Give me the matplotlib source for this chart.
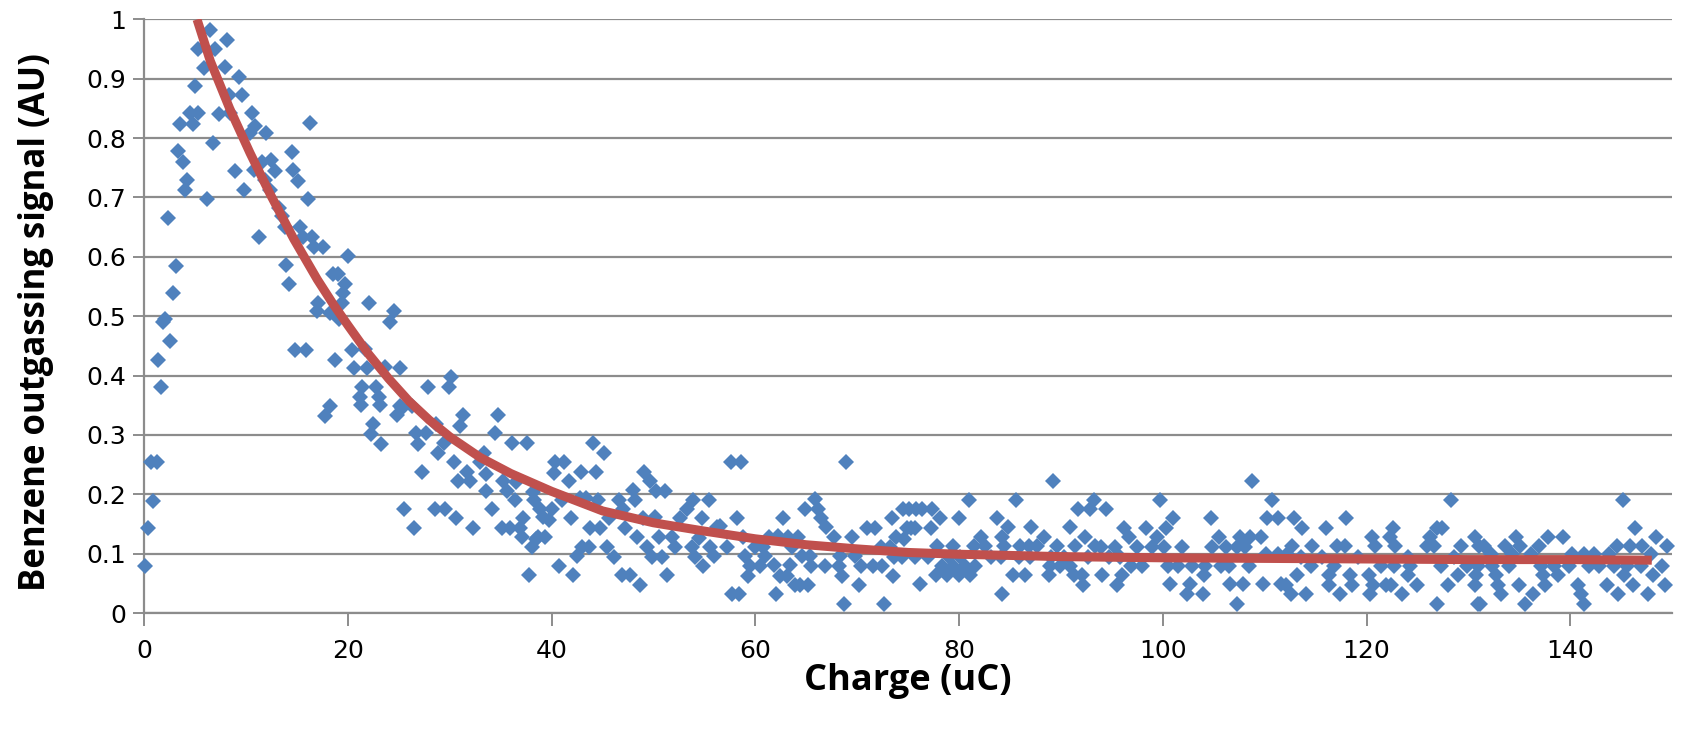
import matplotlib
matplotlib.use("Agg")
import matplotlib.pyplot as plt

# ---- scatter data (charge uC, signal AU) ----
charge_a = [0.1,0.42,0.65,0.85,1.25,1.4,1.64,1.9,2.1,2.3,2.55,2.8,3.1,3.3,3.53,3.8,4.0,4.25,4.5,4.78,5.0,5.27,5.33,5.9,6.2,6.48,6.74,6.97,7.4,7.95,8.1,8.35,8.44,8.93,9.33,9.65,9.85,10.35,10.57,10.8,10.9,11.3,11.55,11.88,11.98,12.37,12.5,12.86,13.25,13.5,13.8,13.94,14.24,14.5,14.66,14.8,15.15,15.3,15.6,15.9,16.05,16.3,16.5,16.7,16.95,17.1,17.6,17.77,18.26,18.26,18.5,18.75,19.0,19.1,19.57,19.46,19.7,20.06]
signal_a = [0.079,0.143,0.254,0.189,0.254,0.427,0.38,0.491,0.495,0.666,0.459,0.539,0.585,0.779,0.824,0.76,0.713,0.73,0.843,0.824,0.888,0.842,0.951,0.919,0.697,0.983,0.792,0.951,0.84,0.92,0.966,0.873,0.842,0.745,0.903,0.873,0.713,0.808,0.842,0.747,0.82,0.634,0.76,0.73,0.808,0.713,0.763,0.745,0.682,0.668,0.65,0.586,0.555,0.777,0.746,0.443,0.728,0.651,0.634,0.443,0.697,0.825,0.634,0.617,0.508,0.522,0.617,0.332,0.349,0.505,0.571,0.427,0.571,0.496,0.539,0.522,0.555,0.601]

charge_b = [20.4,20.6,21.2,21.4,21.7,21.9,22.1,22.8,23.1,23.65,24.1,24.5,24.8,25.1,25.1,26.3,27.9,29.9,30.1,31.3,34.7,21.3,23.2,25.3,22.5,22.25,23.3,26.7,26.9,27.7,28.7,31.0,34.4,29.4,28.9,36.1,37.6,30.4,33.4,33.0,27.25,31.7,33.6,30.8,32.0,35.2,36.5,33.6,35.6,36.4,38.2,38.3,25.5,28.6,29.55,34.2,30.6,37.2,26.5,32.3,35.1,35.9,36.9,37.1,38.1,38.5,37.8]
signal_b = [0.443,0.412,0.364,0.381,0.445,0.412,0.523,0.381,0.364,0.415,0.491,0.508,0.334,0.412,0.348,0.348,0.381,0.38,0.397,0.334,0.334,0.35,0.35,0.346,0.318,0.301,0.285,0.303,0.285,0.303,0.318,0.315,0.303,0.286,0.269,0.286,0.286,0.254,0.27,0.255,0.238,0.238,0.235,0.222,0.222,0.222,0.221,0.206,0.206,0.19,0.204,0.19,0.175,0.175,0.175,0.175,0.16,0.16,0.143,0.143,0.143,0.143,0.143,0.128,0.112,0.125,0.064]

charge_c = [44.1,45.1,40.35,41.2,40.2,42.9,44.4,41.75,49.1,49.7,50.3,51.15,48.0,48.2,41.0,42.8,43.4,44.6,46.6,47.05,53.9,55.5,53.3,38.9,40.0,39.2,39.7,41.9,45.6,49.0,50.2,52.6,54.75,43.8,44.8,47.2,56.2,38.7,39.4,48.4,50.5,51.8,54.5,43.0,43.7,45.4,49.35,52.1,53.8,55.6,42.5,46.1,49.85,50.8,54.1,54.9,40.7,42.1,46.9,47.7,48.7,51.3]
signal_c = [0.286,0.27,0.255,0.255,0.236,0.238,0.238,0.222,0.238,0.222,0.206,0.206,0.207,0.19,0.19,0.193,0.193,0.19,0.19,0.176,0.19,0.19,0.176,0.176,0.175,0.161,0.156,0.16,0.16,0.16,0.161,0.16,0.16,0.143,0.143,0.143,0.145,0.128,0.128,0.128,0.128,0.128,0.127,0.112,0.112,0.112,0.112,0.112,0.112,0.112,0.096,0.095,0.095,0.095,0.095,0.079,0.08,0.064,0.064,0.064,0.047,0.064]

charge_d = [57.6,58.6,68.9,65.9,64.9,66.2,66.4,74.5,73.4,58.2,62.7,56.5,66.9,70.95,71.75,75.3,58.8,61.3,62.2,63.2,64.2,67.7,69.5,73.8,57.2,60.0,60.8,63.6,72.3,73.2,55.9,59.0,61.0,64.6,65.4,68.3,69.8,73.6,74.4,59.5,60.5,61.8,63.4,65.5,66.8,68.2,70.4,71.6,72.4,59.3,62.4,63.1,68.5,73.5,63.9,64.4,65.2,70.2,57.7,58.4,62.0,68.75,72.6]
signal_d = [0.254,0.254,0.254,0.192,0.176,0.176,0.16,0.176,0.16,0.16,0.16,0.147,0.145,0.144,0.144,0.143,0.128,0.128,0.13,0.128,0.128,0.128,0.128,0.128,0.112,0.112,0.112,0.112,0.112,0.112,0.096,0.096,0.096,0.096,0.096,0.096,0.096,0.095,0.095,0.08,0.08,0.081,0.081,0.08,0.08,0.08,0.08,0.08,0.08,0.063,0.063,0.063,0.063,0.063,0.047,0.047,0.047,0.047,0.032,0.032,0.032,0.016,0.016]

charge_e = [89.2,81.0,85.6,93.2,75.1,75.8,76.4,77.3,91.7,92.9,78.1,80.0,83.7,74.9,75.7,77.2,84.85,87.1,90.9,82.2,84.2,88.3,92.4,93.3,74.6,77.8,79.45,81.5,82.5,84.4,86.0,86.9,87.7,89.6,91.4,75.7,77.0,79.0,80.1,83.1,84.1,85.9,87.0,89.0,90.3,92.7,78.3,79.45,80.6,81.6,88.9,89.9,90.9,77.7,78.8,80.0,81.1,85.3,86.5,88.8,91.3,92.1,76.2,92.2,84.2]
signal_e = [0.222,0.19,0.19,0.19,0.176,0.176,0.176,0.176,0.176,0.176,0.16,0.16,0.16,0.144,0.144,0.144,0.145,0.145,0.145,0.128,0.128,0.128,0.128,0.113,0.125,0.113,0.113,0.113,0.113,0.113,0.113,0.113,0.113,0.113,0.113,0.095,0.095,0.095,0.095,0.095,0.095,0.095,0.095,0.095,0.095,0.095,0.08,0.08,0.08,0.08,0.08,0.08,0.08,0.064,0.064,0.064,0.064,0.064,0.064,0.064,0.064,0.064,0.049,0.047,0.032]

charge_f = [108.8,99.7,110.7,94.4,101.0,104.7,110.2,111.3,96.2,98.4,100.3,96.7,99.4,105.5,107.6,108.6,109.6,93.9,95.3,97.5,98.9,100.1,101.9,104.8,106.2,107.3,108.1,110.1,111.3,112.2,94.7,95.8,96.9,98.0,100.5,101.5,102.9,104.1,105.7,106.5,108.5,94.0,96.0,104.0,95.5,100.7,102.7,106.6,107.9,109.8,111.6,102.4,103.9,107.3,112.6]
signal_f = [0.222,0.19,0.19,0.176,0.16,0.16,0.16,0.16,0.144,0.144,0.144,0.128,0.128,0.128,0.128,0.128,0.128,0.112,0.112,0.112,0.112,0.112,0.112,0.112,0.112,0.112,0.112,0.1,0.1,0.1,0.095,0.095,0.08,0.08,0.08,0.08,0.08,0.08,0.08,0.08,0.08,0.064,0.064,0.064,0.047,0.049,0.049,0.049,0.049,0.049,0.049,0.032,0.032,0.016,0.032]

charge_g = [128.3,118.0,112.9,113.7,116.0,122.6,126.9,127.4,120.5,122.3,126.2,130.6,112.7,114.6,117.1,117.9,120.8,122.8,125.9,126.6,129.3,131.0,113.6,115.6,119.2,124.1,128.6,114.5,116.8,121.4,122.7,124.3,127.3,129.9,113.2,116.3,118.4,120.2,124.1,129.0,112.1,116.3,118.6,120.6,121.9,122.4,125.0,128.0,130.6,114.1,117.4,120.3,123.5,126.9,130.9]
signal_g = [0.19,0.16,0.16,0.144,0.144,0.144,0.144,0.144,0.128,0.128,0.128,0.128,0.113,0.113,0.113,0.113,0.113,0.113,0.113,0.113,0.113,0.113,0.095,0.095,0.095,0.095,0.095,0.08,0.08,0.08,0.08,0.08,0.08,0.08,0.064,0.064,0.064,0.064,0.064,0.064,0.047,0.047,0.047,0.047,0.047,0.047,0.047,0.047,0.047,0.032,0.032,0.032,0.032,0.016,0.016]

charge_h = [145.2,146.4,134.7,137.8,139.3,148.4,131.5,133.6,135.1,136.9,144.6,145.9,147.0,149.5,132.2,134.3,136.1,140.2,141.3,142.3,143.8,147.9,130.9,132.3,134.0,137.1,138.4,139.9,141.8,142.8,144.3,145.6,146.9,149.0,130.7,132.7,137.3,138.8,145.3,148.1,132.9,135.0,137.5,140.8,143.6,146.2,149.3,133.2,136.3,141.1,144.7,147.6,131.1,135.6,141.3]
signal_h = [0.19,0.144,0.128,0.128,0.128,0.128,0.113,0.113,0.113,0.113,0.113,0.113,0.113,0.113,0.1,0.1,0.1,0.1,0.1,0.1,0.1,0.1,0.08,0.08,0.08,0.08,0.08,0.08,0.08,0.08,0.08,0.08,0.08,0.08,0.064,0.064,0.064,0.064,0.064,0.064,0.047,0.047,0.047,0.047,0.047,0.047,0.047,0.032,0.032,0.032,0.032,0.032,0.016,0.016,0.016]

# ---- fitted curve ----
fit_charge = [5.2,6.5,8.4,10.4,12.4,14.7,17,18.5,20,22,24,26,28,30,33,36,40,45,50,55,60,65,70,75,80,90,100,110,120,130,140,148]
fit_signal = [1.0,0.93,0.85,0.775,0.705,0.63,0.562,0.522,0.485,0.437,0.395,0.357,0.325,0.297,0.262,0.235,0.205,0.172,0.152,0.138,0.125,0.115,0.108,0.102,0.099,0.095,0.093,0.092,0.091,0.09,0.09,0.089]

x_ticks = [0, 20, 40, 60, 80, 100, 120, 140]
y_ticks = [0, 0.1, 0.2, 0.3, 0.4, 0.5, 0.6, 0.7, 0.8, 0.9, 1.0]
y_tick_labels = ["0", "0.1", "0.2", "0.3", "0.4", "0.5", "0.6", "0.7", "0.8", "0.9", "1"]

charge = charge_a + charge_b + charge_c + charge_d + charge_e + charge_f + charge_g + charge_h
signal = signal_a + signal_b + signal_c + signal_d + signal_e + signal_f + signal_g + signal_h

fig = plt.figure(figsize=(16.87, 7.33), dpi=100)
ax = fig.add_axes([0.0854, 0.1637, 0.9058, 0.8098])
ax.set_xlim(0, 150)
ax.set_ylim(0, 1)

grid_c = "#8c8c8c"
for yv in y_ticks:
    ax.axhline(yv, color=grid_c, lw=1.6, zorder=1)

ax.plot(charge, signal, linestyle="none", marker="D", markersize=8.5,
        color="#4F81BD", markeredgewidth=0, zorder=3, clip_on=False)
ax.plot(fit_charge, fit_signal, color="#C0504D", lw=6.5, zorder=4,
        solid_capstyle="butt", solid_joinstyle="round")

for s in ["top", "right"]:
    ax.spines[s].set_visible(False)
ax.spines["left"].set_color(grid_c)
ax.spines["left"].set_linewidth(1.6)
ax.spines["bottom"].set_color(grid_c)
ax.spines["bottom"].set_linewidth(1.6)
ax.spines["left"].set_zorder(2)

ax.set_xticks(x_ticks)
ax.set_xticklabels([str(v) for v in x_ticks], fontfamily="DejaVu Sans", fontsize=18)
ax.set_yticks(y_ticks)
ax.set_yticklabels(y_tick_labels, fontfamily="DejaVu Sans", fontsize=18)
ax.tick_params(axis="x", direction="out", length=9, width=1.4, color=grid_c, pad=10)
ax.tick_params(axis="y", direction="out", length=8, width=1.4, color=grid_c, pad=5)

ax.set_xlabel("Charge (uC)", fontsize=26, fontweight="bold",
              fontfamily=["Open Sans", "DejaVu Sans"], labelpad=0)
ax.set_ylabel("Benzene outgassing signal (AU)", fontsize=25, fontweight="bold",
              fontfamily=["Open Sans", "DejaVu Sans"])
ax.yaxis.set_label_coords(-0.059, 0.49)

fig.savefig("out.png", dpi=100)
